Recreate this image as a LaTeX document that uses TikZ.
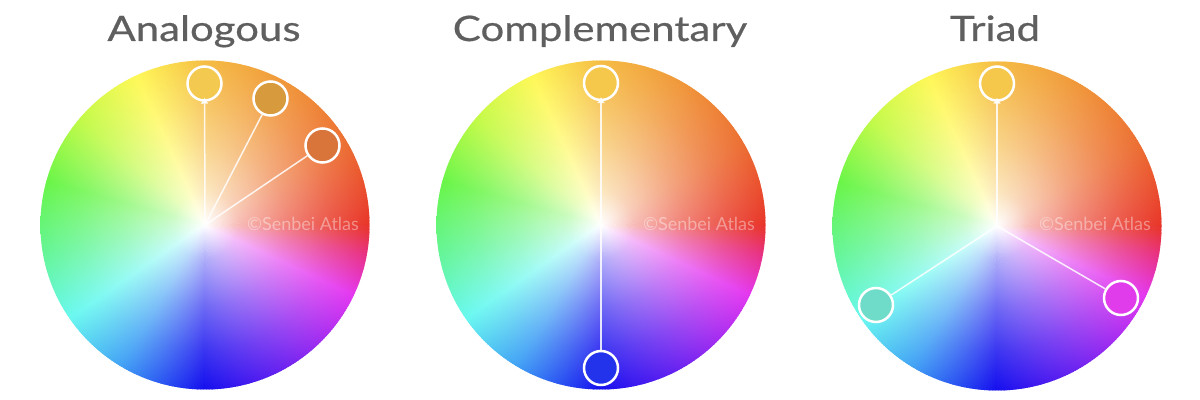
\documentclass[tikz,border=0pt]{standalone}
\usepackage{fontspec}
\setmainfont{Lato}
\newfontfamily\titlefont[FakeStretch=1.2, FakeBold=0.5]{Lato}
\usetikzlibrary{calc,arrows.meta}
\definecolor{titlegray}{RGB}{95,95,95}
% edge colours of the wheel, by angle
\definecolor{k0}{RGB}{232,52,40}
\definecolor{k30}{RGB}{236,110,50}
\definecolor{k60}{RGB}{240,150,58}
\definecolor{k90}{RGB}{245,188,68}
\definecolor{k115}{RGB}{255,248,88}
\definecolor{k140}{RGB}{195,250,72}
\definecolor{k165}{RGB}{105,245,72}
\definecolor{k190}{RGB}{100,245,150}
\definecolor{k215}{RGB}{105,248,240}
\definecolor{k240}{RGB}{65,160,245}
\definecolor{k270}{RGB}{20,15,238}
\definecolor{k300}{RGB}{110,35,240}
\definecolor{k335}{RGB}{228,55,240}
\definecolor{k350}{RGB}{232,48,130}
\definecolor{k360}{RGB}{232,52,40}
\tikzset{
  title/.style={font=\titlefont\fontsize{17.5}{19}\selectfont, text=titlegray, anchor=base, inner sep=0pt},
  marker/.style={circle, draw=white, line width=1.25pt, minimum size=17pt, inner sep=0pt},
  conn/.style={draw=white, draw opacity=0.85, line width=0.75pt},
  connarrow/.style={conn, -{Triangle[width=3.5pt,length=3pt]}, shorten >=-2pt},
  wmark/.style={font=\fontsize{9}{10}\selectfont, text=white, text opacity=0.4, anchor=base, inner sep=0pt}
}
\newcommand\myseg[3]{% angle, a0, a1
  \pgfmathsetmacro\myt{100*(#1-#2)/(#3-#2)}%
  \colorlet{wc}{k#3!\myt!k#2}%
}
\newcommand\mycol[1]{%
  \ifnum#1<30 \myseg{#1}{0}{30}\else
  \ifnum#1<60 \myseg{#1}{30}{60}\else
  \ifnum#1<90 \myseg{#1}{60}{90}\else
  \ifnum#1<115 \myseg{#1}{90}{115}\else
  \ifnum#1<140 \myseg{#1}{115}{140}\else
  \ifnum#1<165 \myseg{#1}{140}{165}\else
  \ifnum#1<190 \myseg{#1}{165}{190}\else
  \ifnum#1<215 \myseg{#1}{190}{215}\else
  \ifnum#1<240 \myseg{#1}{215}{240}\else
  \ifnum#1<270 \myseg{#1}{240}{270}\else
  \ifnum#1<300 \myseg{#1}{270}{300}\else
  \ifnum#1<335 \myseg{#1}{300}{335}\else
  \ifnum#1<350 \myseg{#1}{335}{350}\else
  \myseg{#1}{350}{360}\fi\fi\fi\fi\fi\fi\fi\fi\fi\fi\fi\fi\fi
  \colorlet{wca}{wc!34!white}%
  \colorlet{wcb}{wc!63!white}%
  \colorlet{wcc}{wc!84!white}%
}
\pgfdeclareradialshading[wc,wca,wcb,wcc]{wsh}{\pgfpoint{0bp}{0bp}}{color(0bp)=(white); color(5bp)=(wca); color(12.5bp)=(wcb); color(19bp)=(wcc); color(25bp)=(wc); color(50bp)=(wc)}
\newcommand\mywheel[1]{%
  \foreach \a in {0,1,...,359}{%
    \mycol{\a}%
    \begin{scope}
      \clip (#1) -- ($(#1)+({0.8-\a}:185)$) -- ($(#1)+({-0.8-\a}:185)$) -- cycle;
      \shade[shading=wsh] (#1) circle (164.5);
    \end{scope}
  }%
}
\begin{document}
\begin{tikzpicture}[x=0.5pt, y=-0.5pt]
\useasboundingbox (0,0) rectangle (1200,400);
\fill[white] (0,0) rectangle (1200,400);
% titles
\node[title] (t1) at (204,41) {Analogous};
\node[title] (t2) at (600,41) {Complementary};
\node[title] (t3) at (995,41) {Triad};
% wheel centres
\coordinate (w1) at (205,225);
\coordinate (w2) at (601,225);
\coordinate (w3) at (997,226);
\mywheel{w1}
\mywheel{w2}
\mywheel{w3}
% watermarks
\node[wmark] (m1) at (303,231) {©Senbei Atlas};
\node[wmark] (m2) at (699,231) {©Senbei Atlas};
\node[wmark] (m3) at (1095,231) {©Senbei Atlas};
% analogous
\node[marker, fill={rgb,255:red,243;green,201;blue,79}] (a1) at (204.5,83.5) {};
\node[marker, fill={rgb,255:red,215;green,154;blue,60}] (a2) at (270.5,98.5) {};
\node[marker, fill={rgb,255:red,217;green,116;blue,58}] (a3) at (322.5,145.5) {};
\draw[connarrow] (w1) -- (a1);
\draw[conn] (w1) -- (a2);
\draw[conn] (w1) -- (a3);
% complementary
\node[marker, fill={rgb,255:red,245;green,200;blue,75}] (c1) at (601,83) {};
\node[marker, fill={rgb,255:red,35;green,50;blue,235}] (c2) at (601,368) {};
\draw[connarrow] (w2) -- (c1);
\draw[conn] (w2) -- (c2);
% triad
\node[marker, fill={rgb,255:red,245;green,200;blue,75}] (r1) at (997,83.5) {};
\node[marker, fill={rgb,255:red,110;green,220;blue,200}] (r2) at (876,305) {};
\node[marker, fill={rgb,255:red,225;green,60;blue,235}] (r3) at (1121,298) {};
\draw[connarrow] (w3) -- (r1);
\draw[conn] (w3) -- (r2);
\draw[conn] (w3) -- (r3);
\end{tikzpicture}
\end{document}
